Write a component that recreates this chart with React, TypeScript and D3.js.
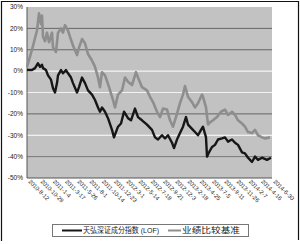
import * as d3 from "d3";

// trading-day index (0..980) and return in %
const fundDays = [0, 20, 32, 44, 52, 60, 64, 76, 84, 96, 104, 112, 120, 124, 136, 144, 156, 164, 176, 184, 200, 208, 220, 232, 244, 260, 272, 284, 292, 300, 312, 324, 340, 348, 364, 376, 388, 404, 416, 432, 444, 460, 480, 500, 512, 524, 540, 552, 564, 580, 588, 600, 612, 624, 636, 644, 660, 672, 684, 696, 704, 716, 720, 728, 740, 752, 764, 780, 792, 804, 820, 832, 844, 860, 872, 884, 900, 912, 924, 940, 960, 976];
const fundValues = [0.5, 0.5, 1.4, 3.7, 2, 3, 1.4, 0.5, -2, -4, -8, -10, -5.6, -2, 0.5, -1, 0.5, -1, -3, -5.6, -10, -7.5, -3, -5.6, -9, -11, -13.5, -17, -19, -17, -19, -22, -27.5, -31, -26, -24.5, -19, -22, -23, -17.5, -21.5, -23, -25, -27.5, -31, -32, -30, -31.5, -30, -33.5, -36, -32, -29, -26, -21.5, -25, -27, -28.5, -30, -27.5, -26, -31, -40, -38, -35.5, -34.5, -32, -31.5, -31, -33, -32, -33.5, -34.5, -38, -38.5, -40.5, -42.5, -40, -41.5, -40.5, -41.5, -40.5];

const benchDays = [0, 20, 40, 48, 56, 60, 64, 72, 80, 88, 100, 104, 116, 124, 136, 144, 152, 164, 172, 184, 200, 208, 220, 232, 244, 260, 272, 284, 292, 300, 312, 324, 344, 352, 364, 380, 392, 404, 420, 436, 444, 460, 480, 492, 504, 520, 532, 544, 560, 572, 584, 596, 612, 624, 632, 644, 660, 672, 684, 700, 704, 716, 724, 732, 744, 760, 776, 792, 804, 820, 832, 844, 860, 872, 884, 900, 912, 924, 940, 952, 972];
const benchValues = [2, 10, 19, 27, 22, 26, 16, 14, 18, 13.5, 18, 11, 9, 18, 20, 18, 21.5, 19, 16, 12, 7.5, 11, 15, 13, 8, 5, 2, -3, -7.5, -0.5, -2, -6, -13.5, -17, -11, -9, -3, -5, -6.5, -0.5, -3, -7.5, -9, -12, -14.5, -19, -21.5, -17.5, -18, -23, -26, -21.5, -15, -11, -7, -12, -14.5, -17, -15, -11, -12, -17, -25, -24, -23, -21.5, -19, -18, -20.5, -19, -20.5, -23, -24.5, -26, -28.5, -29, -27.5, -30, -31, -31.5, -31];

const tickLabels = ["2010-8-12", "2010-10-29", "2011-1-4", "2011-3-17", "2011-5-26", "2011-8-1", "2011-10-14", "2011-12-23", "2012-3-1", "2012-5-14", "2012-7-18", "2012-9-21", "2012-12-3", "2013-2-18", "2013-4-25", "2013-7-5", "2013-9-11", "2013-11-26", "2014-2-7", "2014-4-16", "2014-6-30"];
const yTicks = [30, 20, 10, 0, -10, -20, -30, -40, -50];
const gridColors = ["none", "#666", "#666", "#fff", "#f2f2f2", "#666", "#fff", "#777", "none"];
const seriesNames = ["天弘深证成分指数 (LOF)", "业绩比较基准"];

const W = 300;
const H = 244;
const left = 27;
const right = 272;
const top = 7;
const bottom = 178;

export default function App() {
  const x = d3.scaleLinear().domain([0, 980]).range([left, right]);
  const y = d3.scaleLinear().domain([-50, 30]).range([bottom, top]);
  const labelX = d3.scalePoint<number>().domain(d3.range(tickLabels.length)).range([left, right]);

  const line = d3
    .line<[number, number]>()
    .x((d) => x(d[0]))
    .y((d) => y(d[1]));

  const fund = fundDays.map((d, i) => [d, fundValues[i]] as [number, number]);
  const bench = benchDays.map((d, i) => [d, benchValues[i]] as [number, number]);

  return (
    <svg
      width={W}
      height={H}
      style={{ position: "absolute", left: 0, top: 0, background: "#fff" }}
      fontFamily="'Liberation Sans', 'Noto Sans CJK SC', sans-serif"
    >
      <path d={`M1.5,${H - 3}V1.5H${W - 1.5}V${H - 4}`} fill="none" stroke="#111" strokeWidth={1.2} />
      <rect x={left} y={top} width={right - left} height={bottom - top} fill="#c2c2c2" />
      {yTicks.map((t, i) => (
        <g key={t}>
          {gridColors[i] !== "none" && (
            <line x1={left} x2={right} y1={y(t)} y2={y(t)} stroke={gridColors[i]} strokeWidth={1} />
          )}
          <text x={23} y={y(t) + 2.3} fontSize={6.5} textAnchor="end" fill="#222">
            {t}%
          </text>
        </g>
      ))}
      <line x1={left} x2={left} y1={top} y2={bottom} stroke="#555" />
      <line x1={left} x2={right} y1={bottom} y2={bottom} stroke="#555" />
      <path d={line(bench) ?? ""} fill="none" stroke="#8e8e8e" strokeWidth={2.6} strokeLinejoin="round" />
      <path d={line(fund) ?? ""} fill="none" stroke="#161616" strokeWidth={2.4} strokeLinejoin="round" />
      {tickLabels.map((l, i) => (
        <text
          key={l}
          transform={`translate(${labelX(i)! + 1},${bottom + 4}) rotate(45)`}
          fontSize={5.8}
          fill="#222"
        >
          {l}
        </text>
      ))}
      <rect x={52.5} y={224.5} width={196} height={12} fill="#fff" stroke="#777" />
      <line x1={62} x2={82} y1={230.5} y2={230.5} stroke="#161616" strokeWidth={2} />
      <text x={83} y={233.2} fontSize={7.5} fill="#222" textLength={76} lengthAdjust="spacingAndGlyphs">
        {seriesNames[0]}
      </text>
      <line x1={168} x2={181} y1={230.5} y2={230.5} stroke="#8e8e8e" strokeWidth={2} />
      <text x={182} y={233.2} fontSize={7.5} fill="#222" textLength={58} lengthAdjust="spacingAndGlyphs">
        {seriesNames[1]}
      </text>
    </svg>
  );
}
